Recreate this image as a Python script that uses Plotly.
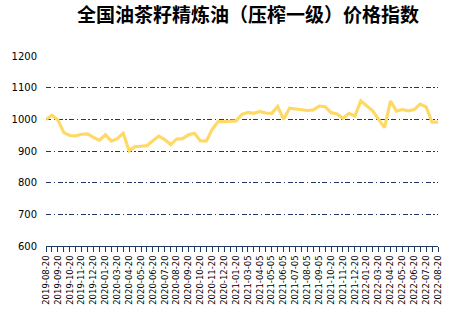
import plotly.graph_objects as go

dates = [
    "2019-08-20", "2019-09-05", "2019-09-20", "2019-10-05", "2019-10-20", "2019-11-05",
    "2019-11-20", "2019-12-05", "2019-12-20", "2020-01-05", "2020-01-20", "2020-03-05",
    "2020-03-20", "2020-04-05", "2020-04-20", "2020-05-05", "2020-05-20", "2020-06-05",
    "2020-06-20", "2020-07-05", "2020-07-20", "2020-08-05", "2020-08-20", "2020-09-05",
    "2020-09-20", "2020-10-05", "2020-10-20", "2020-11-05", "2020-11-20", "2020-12-05",
    "2020-12-20", "2021-01-05", "2021-01-20", "2021-02-20", "2021-03-05", "2021-03-20",
    "2021-04-05", "2021-04-20", "2021-05-05", "2021-05-20", "2021-06-05", "2021-06-20",
    "2021-07-05", "2021-07-20", "2021-08-05", "2021-08-20", "2021-09-05", "2021-09-20",
    "2021-10-20", "2021-11-05", "2021-11-20", "2021-12-05", "2021-12-20", "2022-01-05",
    "2022-01-20", "2022-03-05", "2022-03-20", "2022-04-05", "2022-04-20", "2022-05-05",
    "2022-05-20", "2022-06-05", "2022-06-20", "2022-07-05", "2022-07-20", "2022-08-05",
    "2022-08-20",
]

values = [
    1000, 1013, 998, 958, 949, 948, 953, 954, 943, 934, 951, 931,
    939, 956, 901, 914, 915, 917, 932, 947, 936, 920, 938, 939,
    951, 956, 932, 932, 969, 993, 993, 995, 995, 1016, 1022, 1019,
    1025, 1020, 1019, 1041, 1000, 1035, 1032, 1029, 1028, 1030, 1042, 1040,
    1021, 1017, 1003, 1019, 1010, 1058, 1043, 1027, 1000, 974, 1058, 1026,
    1031, 1027, 1031, 1048, 1039, 991, 991,
]

y_ticks = [600, 700, 800, 900, 1000, 1100, 1200]
title_text = "全国油茶籽精炼油（压榨一级）价格指数"

idx = list(range(len(values)))
tick_text = [d if i % 2 == 0 else "" for i, d in enumerate(dates)]

navy = "#1F3864"

fig = go.Figure()
fig.add_trace(go.Scatter(
    x=idx, y=values, mode="lines",
    line=dict(color="#FFD966", width=3.2),
    hovertext=dates,
))

fig.update_layout(
    width=455, height=320,
    margin=dict(l=38, r=17, t=56, b=74),
    paper_bgcolor="white", plot_bgcolor="white",
    showlegend=False,
    title=dict(
        text=title_text, x=0.545, xanchor="center", y=0.953, yanchor="middle",
        font=dict(family="Noto Sans CJK SC", size=19, color="black", weight="bold"),
    ),
    font=dict(family="DejaVu Sans", color="black"),
)

fig.update_xaxes(
    range=[0, len(values) - 1],
    tickmode="array", tickvals=idx, ticktext=tick_text,
    tickangle=-90,
    tickfont=dict(family="DejaVu Sans", size=8.5, color="black"),
    ticks="outside", ticklen=5, tickcolor=navy, tickwidth=1,
    showline=True, linecolor=navy, linewidth=1,
    showgrid=False, zeroline=False,
)

fig.update_yaxes(
    range=[600, 1200],
    tickmode="array", tickvals=y_ticks,
    tickfont=dict(family="DejaVu Sans", size=10, color="black"),
    ticks="outside", ticklen=6, tickcolor="rgba(0,0,0,0)",
    showline=False,
    showgrid=True, gridcolor=navy, gridwidth=1, griddash="5px,2.5px,1.5px,2.5px",
    zeroline=False,
)

fig.write_html("out.html")
